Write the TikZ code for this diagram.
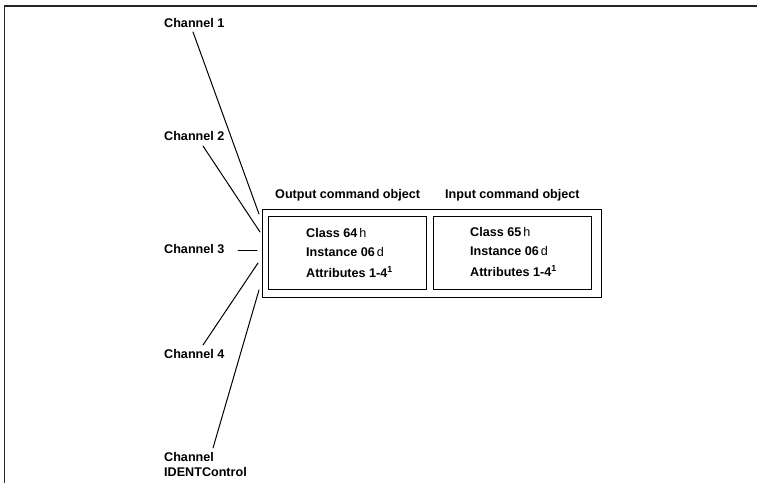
\documentclass[tikz,border=0pt]{standalone}
\usepackage{fontspec}
\setmainfont{Liberation Sans}
\begin{document}
\begin{tikzpicture}[x=1pt,y=-1pt,
  lbl/.style={anchor=base west, inner sep=0pt, font=\fontsize{12.6}{15}\selectfont\bfseries},
  wire/.style={line width=1pt, line cap=round},
  objbox/.style={draw, line width=1.2pt, anchor=north west, inner sep=0pt},
  border/.style={line width=1.6pt, draw=black!85}]
\useasboundingbox (0,0) rectangle (757,483);

% page frame (top and left rules)
\coordinate (fbl) at (4.5,483);
\coordinate (ftl) at (4.5,6);
\coordinate (ftr) at (757,6);
\draw[border] (fbl) -- (ftl) -- (ftr);

% channel labels
\node[lbl] (ch1) at (164,27) {Channel 1};
\node[lbl] (ch2) at (164,140) {Channel 2};
\node[lbl] (ch3) at (164,253) {Channel 3};
\node[lbl] (ch4) at (164,358) {Channel 4};
\node[lbl, anchor=north west, align=left] (ch5) at (164,452.5) {Channel\\IDENTControl};

% object boxes
\node[objbox, minimum width=338.5pt, minimum height=88pt] (outer) at (262,209) {};
\node[objbox, minimum width=158pt, minimum height=73pt] (outobj) at (268,216) {};
\node[objbox, minimum width=158pt, minimum height=73pt] (inobj) at (433,216) {};

% headings
\node[lbl] (outhead) at (275,198) {Output command object};
\node[lbl] (inhead) at (445,198) {Input command object};

% contents of the output object
\node[lbl] (oclass) at (306,237) {Class 64\,{\mdseries h}};
\node[lbl] (oinst) at (306,256) {Instance 06\,{\mdseries d}};
\node[lbl] (oattr) at (306,277) {Attributes 1-4\textsuperscript{1}};

% contents of the input object
\node[lbl] (iclass) at (470,236) {Class 65\,{\mdseries h}};
\node[lbl] (iinst) at (470,255) {Instance 06\,{\mdseries d}};
\node[lbl] (iattr) at (470,276) {Attributes 1-4\textsuperscript{1}};

% channel connectors
\coordinate (c1a) at (193,32);   \coordinate (c1b) at (259,214);
\coordinate (c2a) at (203,146);  \coordinate (c2b) at (260,232);
\coordinate (c3a) at (238,250.5);\coordinate (c3b) at (257,250.5);
\coordinate (c4a) at (203,345);  \coordinate (c4b) at (258,263);
\coordinate (c5a) at (213,448);  \coordinate (c5b) at (259,290);
\draw[wire] (c1a) -- (c1b);
\draw[wire] (c2a) -- (c2b);
\draw[wire] (c3a) -- (c3b);
\draw[wire] (c4a) -- (c4b);
\draw[wire] (c5a) -- (c5b);
\end{tikzpicture}
\end{document}
